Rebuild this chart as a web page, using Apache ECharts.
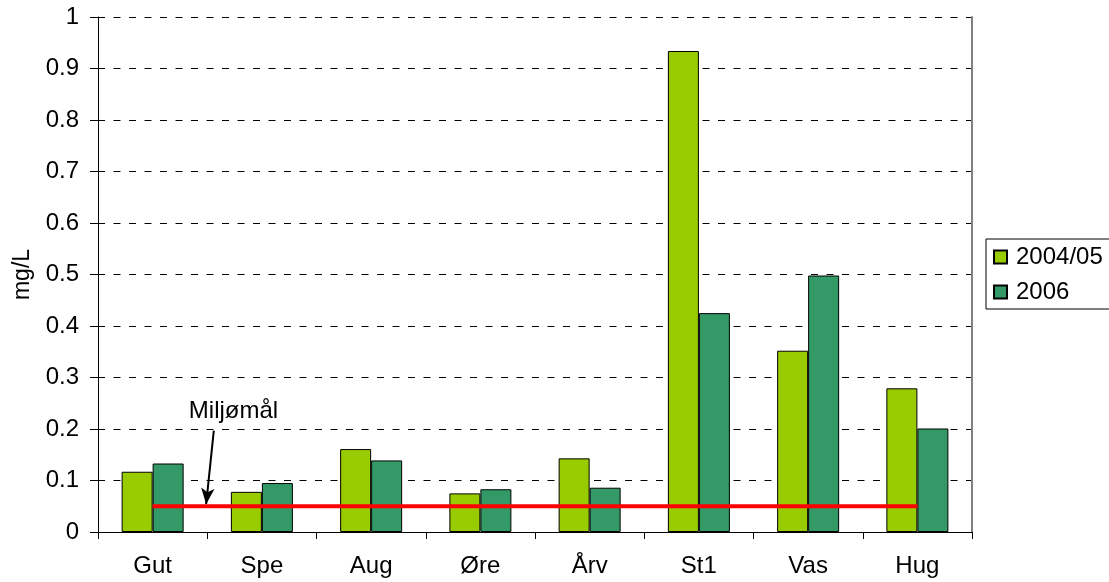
<!DOCTYPE html>
<html>
<head>
<meta charset="utf-8">
<script src="https://cdn.jsdelivr.net/npm/echarts/dist/echarts.min.js"></script>
<style>
  html, body { margin: 0; padding: 0; background: #fff; }
  #main { width: 1109px; height: 582px; }
</style>
</head>
<body>
<div id="main"></div>
<script>
// data
var stations = ['Gut', 'Spe', 'Aug', 'Øre', 'Årv', 'St1', 'Vas', 'Hug'];
var val0405 = [0.117, 0.078, 0.161, 0.075, 0.143, 0.934, 0.352, 0.279];
var val2006 = [0.133, 0.095, 0.139, 0.083, 0.086, 0.425, 0.498, 0.201];
var targetVal = [0.05, 0.05, 0.05, 0.05, 0.05, 0.05, 0.05, 0.05];
// annotation (x in category units on hidden value axis, 0..8)
var labelPos = [1.24, 0.235];
var arrowFrom = [1.06, 0.197];
var arrowTo = [0.99, 0.054];

var FONT = 'Liberation Sans, Arial, sans-serif';

var myChart = echarts.init(document.getElementById('main'));
var option = {
    animation: false,
    textStyle: { fontFamily: FONT },
    grid: { left: 98, right: 137, top: 17, bottom: 50, containLabel: false, outerBoundsMode: 'none' },
    legend: {
        data: ['2004/05', '2006'],
        orient: 'vertical',
        left: 986,
        top: 239,
        padding: [6, 60, 5, 7],
        itemGap: 11,
        itemWidth: 13,
        itemHeight: 13,
        icon: 'rect',
        borderColor: '#000',
        borderWidth: 1,
        borderRadius: 0,
        textStyle: { fontSize: 24, color: '#000', fontFamily: FONT, padding: [0, 0, 0, 4] },
        selectedMode: false
    },
    xAxis: [
        {
            type: 'category',
            data: stations,
            axisLine: { lineStyle: { color: '#000', width: 1 } },
            axisTick: { show: true, length: 7, interval: 0, lineStyle: { color: '#000' } },
            axisLabel: { fontSize: 24, color: '#000', margin: 22, fontFamily: FONT, interval: 0 }
        },
        {
            type: 'value',
            min: 0,
            max: 8,
            show: false
        }
    ],
    yAxis: [
        {
            type: 'value',
            min: 0,
            max: 1,
            interval: 0.1,
            name: 'mg/L',
            nameLocation: 'middle',
            nameGap: 64,
            nameTextStyle: { fontSize: 23, color: '#000', fontFamily: FONT },
            axisLine: { show: true, lineStyle: { color: '#000', width: 1 } },
            axisTick: { show: true, length: 8, lineStyle: { color: '#000' } },
            axisLabel: { fontSize: 24, color: '#000', margin: 19, fontFamily: FONT },
            splitLine: {
                show: true,
                lineStyle: { color: '#000', width: 1, type: [7, 8.5] }
            }
        },
        {
            type: 'value',
            min: 0,
            max: 1,
            position: 'right',
            axisLine: { show: true, lineStyle: { color: '#808080', width: 2 } },
            axisTick: { show: false },
            axisLabel: { show: false },
            splitLine: { show: false }
        }
    ],
    series: [
        {
            name: '2004/05',
            type: 'bar',
            data: val0405,
            barWidth: 31,
            barGap: '0%',
            itemStyle: { color: '#99CC00', borderColor: '#000', borderWidth: 1 }
        },
        {
            name: '2006',
            type: 'bar',
            data: val2006,
            barWidth: 31,
            barGap: '0%',
            itemStyle: { color: '#339966', borderColor: '#000', borderWidth: 1 }
        },
        {
            name: 'Miljømål',
            type: 'line',
            data: targetVal,
            symbol: 'none',
            z: 5,
            lineStyle: { color: '#FF0000', width: 4 }
        },
        {
            name: 'annot',
            type: 'scatter',
            xAxisIndex: 1,
            yAxisIndex: 0,
            data: [labelPos],
            symbolSize: 1,
            itemStyle: { opacity: 0 },
            z: 6,
            silent: true,
            label: {
                show: true,
                position: 'inside',
                formatter: 'Miljømål',
                fontSize: 24,
                color: '#000',
                opacity: 1,
                fontFamily: FONT
            },
            markLine: {
                silent: true,
                symbol: ['none', 'arrow'],
                symbolSize: [10, 16],
                label: { show: false },
                lineStyle: { color: '#000', width: 2, type: 'solid', opacity: 1 },
                data: [[{ coord: arrowFrom }, { coord: arrowTo }]]
            }
        }
    ]
};
myChart.setOption(option);
</script>
</body>
</html>
